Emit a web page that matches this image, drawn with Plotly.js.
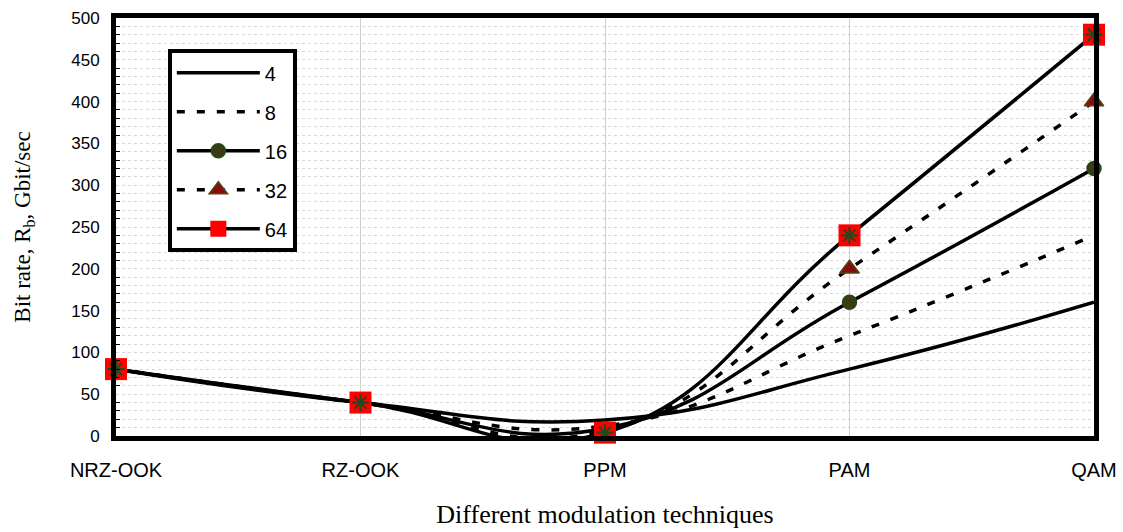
<!DOCTYPE html>
<html>
<head>
<meta charset="utf-8">
<script src="https://cdn.plot.ly/plotly-3.0.1.min.js"></script>
<style>html,body{margin:0;padding:0;background:#fff;}#chart{width:1123px;height:532px;}</style>
</head>
<body>
<div id="chart"></div>
<script>
var categories = ["NRZ-OOK", "RZ-OOK", "PPM", "PAM", "QAM"];
var seriesNames = ["4", "8", "16", "32", "64"];
var m4  = [80, 40, 19, 80, 160];
var m8  = [80, 40, 12, 120, 240];
var m16 = [80, 40, 9, 160, 320];
var m32 = [80, 40, 6, 200, 400];
var m64 = [80, 40, 4, 240, 480];

var lw = 3.5;
var common = {type: 'scatter', x: categories, line: {shape: 'spline', smoothing: 1.3, color: '#000', width: lw}, cliponaxis: false};

function tr(name, y, extra) {
  var t = JSON.parse(JSON.stringify(common));
  t.name = name; t.y = y; t.legendgroup = 'g' + name;
  for (var k in extra) {
    if (k === 'line') { for (var j in extra.line) t.line[j] = extra.line[j]; }
    else t[k] = extra[k];
  }
  return t;
}

var data = [
  tr(seriesNames[0], m4, {mode: 'lines'}),
  tr(seriesNames[1], m8, {mode: 'lines', line: {dash: '8px,12px'}}),
  tr(seriesNames[2], m16, {mode: 'lines+markers', marker: {symbol: 'circle', size: 14, color: '#3b3a12', line: {color: '#1d4d1d', width: 1.5}}}),
  tr(seriesNames[3], m32, {mode: 'lines+markers', line: {dash: '8px,12px'}, marker: {symbol: 'triangle-up', size: 17, color: '#8b0a0a', line: {color: '#4a4a18', width: 1.5}}}),
  tr(seriesNames[4], m64, {mode: 'lines+markers', marker: {symbol: 'square', size: 22, color: '#ff0000', line: {width: 0}}}),
  {type: 'scatter', x: categories, y: m64, mode: 'markers', showlegend: false, hoverinfo: 'skip', cliponaxis: false,
   legendgroup: 'g64',
   marker: {symbol: 'asterisk-open', size: 14, color: '#1e4a1e', line: {color: '#1e4a1e', width: 2.2}}}
];

var layout = {
  width: 1123, height: 532,
  margin: {l: 116, r: 29, t: 18, b: 96},
  paper_bgcolor: '#fff', plot_bgcolor: '#fff',
  showlegend: true,
  legend: {
    x: 0.053, y: 0.925, xanchor: 'left', yanchor: 'top',
    bgcolor: '#fff', bordercolor: '#000', borderwidth: 4,
    font: {family: 'Liberation Sans, Arial, sans-serif', size: 20, color: '#000'},
    itemwidth: 83, tracegroupgap: 10, traceorder: 'grouped'
  },
  xaxis: {
    type: 'category', range: [0, 4],
    showline: true, linecolor: '#000', linewidth: 5, mirror: true,
    showgrid: true, gridcolor: '#d0d0d0', gridwidth: 1,
    ticks: '', ticklabelstandoff: 12,
    tickfont: {family: 'Liberation Sans, Arial, sans-serif', size: 20, color: '#000'},
    title: {text: 'Different modulation techniques', standoff: 26,
            font: {family: 'Liberation Serif, Times New Roman, serif', size: 26, color: '#000'}},
    zeroline: false
  },
  yaxis: {
    range: [0, 500], dtick: 50, tick0: 0,
    showline: true, linecolor: '#000', linewidth: 5, mirror: true,
    showgrid: true, gridcolor: '#d8d8d8', gridwidth: 1, griddash: 'dot',
    ticks: '', ticklen: 0,
    minor: {dtick: 10, showgrid: true, gridcolor: '#d8d8d8', gridwidth: 1, griddash: 'dot', ticks: 'inside', ticklen: 4, tickcolor: '#000'},
    tickfont: {family: 'Liberation Sans, Arial, sans-serif', size: 17, color: '#000'},
    ticklabelstandoff: 8,
    title: {text: 'Bit rate, R<sub>b</sub>, Gbit/sec', standoff: 36,
            font: {family: 'Liberation Serif, Times New Roman, serif', size: 23, color: '#000'}},
    zeroline: false
  }
};

Plotly.newPlot('chart', data, layout, {displayModeBar: false, staticPlot: true});
</script>
</body>
</html>
